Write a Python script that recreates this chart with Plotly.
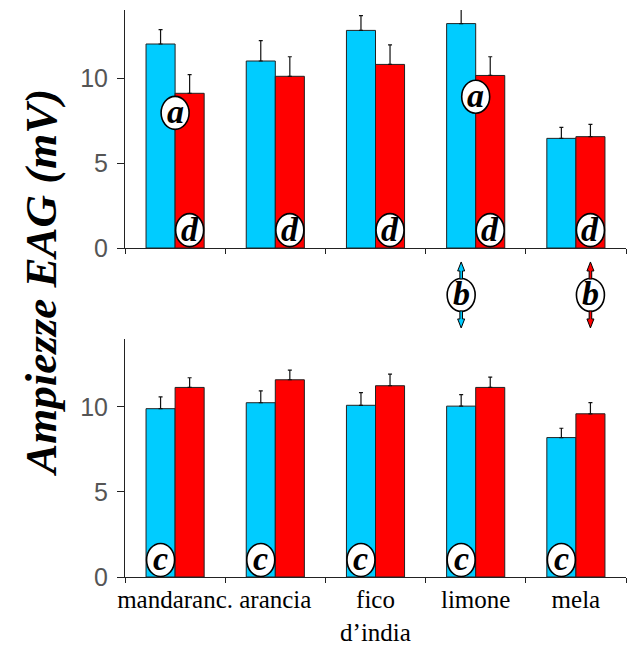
import plotly.graph_objects as go

# Fruit odours tested
categories = ["mandaranc.", "arancia", "fico<br>d’india", "limone", "mela"]

# Upper panel: mean EAG amplitude (mV) and upper error
upper_blue = [12.0, 11.0, 12.8, 13.2, 6.45]
upper_blue_err = [0.85, 1.2, 0.87, 0.84, 0.65]
upper_red = [9.1, 10.1, 10.8, 10.15, 6.55]
upper_red_err = [1.1, 1.15, 1.15, 1.1, 0.72]

# Lower panel: mean EAG amplitude (mV) and upper error
lower_blue = [9.9, 10.25, 10.1, 10.05, 8.2]
lower_blue_err = [0.7, 0.7, 0.74, 0.68, 0.55]
lower_red = [11.15, 11.6, 11.25, 11.15, 9.6]
lower_red_err = [0.57, 0.57, 0.68, 0.6, 0.66]

y_ticks = [0, 5, 10]

BLUE = "#00CCFF"
RED = "#FF0000"
EDGE = "#222222"
BAR_OFFSET = 0.145  # half of one bar's width, in category units

fig = go.Figure()


def add_pair(blue, blue_err, red, red_err, xa, ya):
    for vals, errs, col in ((blue, blue_err, BLUE), (red, red_err, RED)):
        fig.add_trace(go.Bar(
            x=categories, y=vals, xaxis=xa, yaxis=ya,
            marker=dict(color=col, line=dict(color=EDGE, width=1)),
            error_y=dict(type="data", array=errs, arrayminus=[0] * len(errs),
                         symmetric=False, color="#111111", thickness=1.2, width=2),
            showlegend=False, hoverinfo="skip",
        ))


add_pair(upper_blue, upper_blue_err, upper_red, upper_red_err, "x", "y")
add_pair(lower_blue, lower_blue_err, lower_red, lower_red_err, "x2", "y2")

# Letter markers: (letter, category index, offset within group, y value, panel)
letters = [
    ("a", 0, 0.0, 7.95, 1),
    ("a", 3, 0.0, 8.9, 1),
]
for i in range(len(categories)):
    letters.append(("d", i, BAR_OFFSET, 1.05, 1))
    letters.append(("c", i, -BAR_OFFSET, 1.0, 2))
letters.append(("b", 3, -BAR_OFFSET, 0.484, 3))
letters.append(("b", 4, BAR_OFFSET, 0.484, 3))

axis_suffix = {1: "", 2: "2", 3: "3"}
shapes = []
annotations = []
for letter, idx, off, yv, panel in letters:
    s = axis_suffix[panel]
    xpos = idx + off
    shapes.append(dict(
        type="circle", xref="x" + s, yref="y" + s,
        xsizemode="pixel", ysizemode="pixel", xanchor=xpos, yanchor=yv,
        x0=-14, x1=14, y0=-16.5, y1=16.5,
        fillcolor="white", line=dict(color="black", width=1.6), layer="above",
    ))
    annotations.append(dict(
        x=xpos, y=yv, xref="x" + s, yref="y" + s, text=letter, showarrow=False,
        xanchor="center", yanchor="middle", yshift=1,
        font=dict(family="Liberation Serif", size=34, color="black",
                  style="italic", weight="bold"),
    ))

# Double-headed arrows around the "b" markers
for idx, off, col in ((3, -BAR_OFFSET, BLUE), (4, BAR_OFFSET, RED)):
    for sgn in (1, -1):
        pts = [(0, 33), (3.5, 24), (1.3, 24), (1.3, 16), (-1.3, 16), (-1.3, 24), (-3.5, 24)]
        path = "M " + " L ".join(f"{px},{sgn * py}" for px, py in pts) + " Z"
        shapes.append(dict(
            type="path", xref="x3", yref="y3", xsizemode="pixel", ysizemode="pixel",
            xanchor=idx + off, yanchor=0.484, path=path,
            fillcolor=col, line=dict(color="black", width=1), layer="above",
        ))

# Shared y-axis title
annotations.append(dict(
    text="Ampiezze EAG (mV)", xref="paper", yref="paper", x=-0.168, y=0.5185,
    textangle=-90, showarrow=False, xanchor="center", yanchor="middle",
    font=dict(family="Liberation Serif", size=45, color="black",
              style="italic", weight="bold"),
))

tick_font = dict(family="Liberation Sans Narrow, Arial Narrow, sans-serif", size=25, color="#555555")
yaxis_common = dict(
    range=[0, 14], tickmode="array", tickvals=y_ticks, ticks="outside", ticklen=7,
    tickcolor=EDGE, showline=True, linecolor=EDGE, linewidth=1, showgrid=False,
    zeroline=False, tickfont=tick_font, ticklabelstandoff=4, automargin=False,
)
xaxis_common = dict(
    type="category", categoryorder="array", categoryarray=categories,
    range=[-0.5, 4.5], tickson="boundaries", ticks="outside", ticklen=5,
    tickcolor=EDGE, showline=True, linecolor=EDGE, linewidth=1, showgrid=False,
    zeroline=False, tickangle=0, automargin=False,
)

fig.update_layout(
    width=633, height=647,
    margin=dict(l=125, r=7, t=10, b=70),
    paper_bgcolor="white", plot_bgcolor="white",
    barmode="group", bargap=0.42, bargroupgap=0,
    xaxis=dict(**xaxis_common, domain=[0, 1], anchor="y", showticklabels=False),
    yaxis=dict(**yaxis_common, domain=[0.5802, 1], anchor="x"),
    xaxis2=dict(**xaxis_common, domain=[0, 1], anchor="y2", showticklabels=True,
                tickfont=dict(family="Liberation Serif", size=25, color="black")),
    yaxis2=dict(**yaxis_common, domain=[0, 0.4198], anchor="x2"),
    xaxis3=dict(type="category", categoryorder="array", categoryarray=categories,
                range=[-0.5, 4.5], domain=[0, 1], anchor="y3", visible=False),
    yaxis3=dict(range=[0, 1], domain=[0.4198, 0.5802], anchor="x3", visible=False),
    shapes=shapes, annotations=annotations,
)

# Invisible trace to establish the middle subplot
fig.add_trace(go.Scatter(x=categories, y=[None] * len(categories), xaxis="x3", yaxis="y3",
                         showlegend=False, hoverinfo="skip"))

fig.write_html("out.html")
